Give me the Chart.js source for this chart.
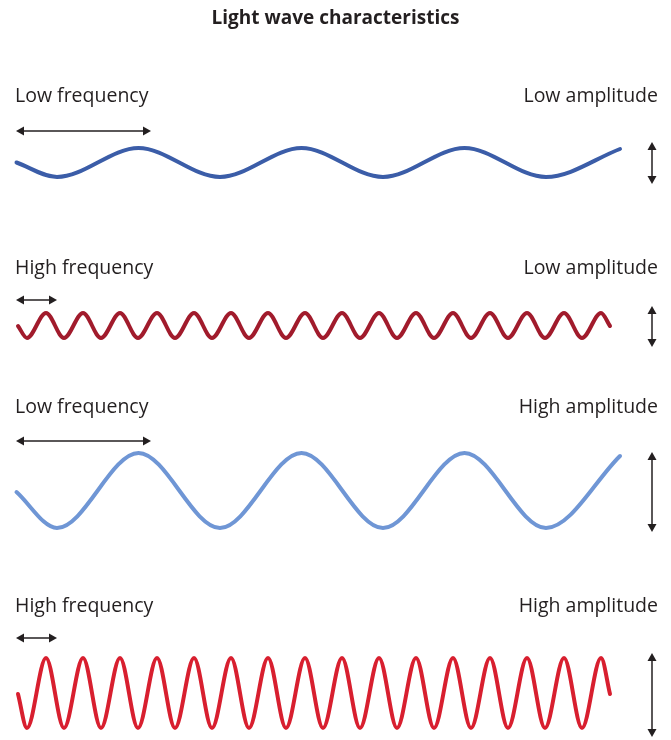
<!DOCTYPE html>
<html>
<head>
<meta charset="utf-8">
<script src="https://cdn.jsdelivr.net/npm/chart.js@4/dist/chart.umd.min.js"></script>
<style>
  html, body { margin: 0; background: #fff; }
  .wrap { width: 671px; height: 740px; position: relative; }
</style>
</head>
<body>
<div class="wrap"><canvas id="waves"></canvas></div>
<script>
// wave extrema (x, y in picture pixels)
const lowFreqX  = [16.5, 57, 138.5, 220, 301.5, 383, 464.5, 546, 620];
const lowAmpLowFreqY  = [162.5, 177, 148, 177, 148, 177, 148, 177, 149];
const highAmpLowFreqY = [492, 528, 453, 528, 453, 528, 453, 528, 456];

const highFreqX = [18, 27, 46, 64, 83, 101, 120, 138, 157, 175, 194, 212, 231, 249, 268, 286, 305,
                   323, 342, 360, 379, 397, 416, 434, 453, 471, 490, 508, 527, 545, 564, 582, 601, 610];
const lowAmpHighFreqY  = [326, 338, 313, 338, 313, 338, 313, 338, 313, 338, 313, 338, 313, 338, 313, 338, 313,
                          338, 313, 338, 313, 338, 313, 338, 313, 338, 313, 338, 313, 338, 313, 338, 313, 326];
const highAmpHighFreqY = [694, 728, 658, 728, 658, 728, 658, 728, 658, 728, 658, 728, 658, 728, 658, 728, 658,
                          728, 658, 728, 658, 728, 658, 728, 658, 728, 658, 728, 658, 728, 658, 728, 658, 694];

// labels
const leftLabels  = ['Low frequency', 'High frequency', 'Low frequency', 'High frequency'];
const rightLabels = ['Low amplitude', 'Low amplitude', 'High amplitude', 'High amplitude'];
const labelY      = [96, 268, 407, 606];

// wavelength arrows (horizontal) and amplitude arrows (vertical)
const waveArrowStart = [16, 16, 16, 16];
const waveArrowEnd   = [151, 57, 151, 57];
const waveArrowY     = [131, 300, 441, 638];
const ampArrowX      = [652, 652, 652, 652];
const ampArrowTop    = [142, 306, 452, 653];
const ampArrowBottom = [184, 347, 532, 737];

const toPoints = (xs, ys) => xs.map((x, i) => ({ x, y: ys[i] }));

const TEXT = '#231f20';

function arrowHead(ctx, x, y, dx, dy) {
  const len = 8, half = 4.5;
  const px = -dy, py = dx;
  ctx.beginPath();
  ctx.moveTo(x, y);
  ctx.lineTo(x - dx * len + px * half, y - dy * len + py * half);
  ctx.lineTo(x - dx * len - px * half, y - dy * len - py * half);
  ctx.closePath();
  ctx.fill();
}

const decorations = {
  id: 'decorations',
  afterDatasetsDraw(chart) {
    const { ctx, scales: { x, y } } = chart;
    ctx.save();
    ctx.fillStyle = TEXT;
    ctx.strokeStyle = TEXT;
    ctx.lineWidth = 1.5;

    // labels
    ctx.font = '19.5px "Open Sans"';
    ctx.textBaseline = 'middle';
    leftLabels.forEach((t, i) => {
      ctx.textAlign = 'left';
      ctx.fillText(t, x.getPixelForValue(15), y.getPixelForValue(labelY[i]));
      ctx.textAlign = 'right';
      ctx.fillText(rightLabels[i], x.getPixelForValue(658), y.getPixelForValue(labelY[i]));
    });

    // horizontal arrows
    waveArrowY.forEach((v, i) => {
      const x0 = x.getPixelForValue(waveArrowStart[i]);
      const x1 = x.getPixelForValue(waveArrowEnd[i]);
      const yy = y.getPixelForValue(v);
      ctx.beginPath();
      ctx.moveTo(x0 + 5, yy);
      ctx.lineTo(x1 - 5, yy);
      ctx.stroke();
      arrowHead(ctx, x0, yy, -1, 0);
      arrowHead(ctx, x1, yy, 1, 0);
    });

    // vertical arrows
    ampArrowX.forEach((v, i) => {
      const xx = x.getPixelForValue(v);
      const y0 = y.getPixelForValue(ampArrowTop[i]);
      const y1 = y.getPixelForValue(ampArrowBottom[i]);
      ctx.beginPath();
      ctx.moveTo(xx, y0 + 5);
      ctx.lineTo(xx, y1 - 5);
      ctx.stroke();
      arrowHead(ctx, xx, y0, 0, -1);
      arrowHead(ctx, xx, y1, 0, 1);
    });
    ctx.restore();
  }
};

const wave = (data, color) => ({
  data,
  borderColor: color,
  borderWidth: 4,
  borderCapStyle: 'round',
  pointRadius: 0,
  cubicInterpolationMode: 'monotone',
  fill: false
});

new Chart(document.getElementById('waves'), {
  type: 'line',
  data: {
    datasets: [
      wave(toPoints(lowFreqX, lowAmpLowFreqY), '#3b5da8'),
      wave(toPoints(highFreqX, lowAmpHighFreqY), '#a11b2c'),
      wave(toPoints(lowFreqX, highAmpLowFreqY), '#6f96d5'),
      wave(toPoints(highFreqX, highAmpHighFreqY), '#d81f2f')
    ]
  },
  options: {
    responsive: true,
    maintainAspectRatio: false,
    animation: false,
    layout: { padding: 0 },
    scales: {
      x: { type: 'linear', display: false, min: 0, max: 671 },
      y: { type: 'linear', display: false, min: 40, max: 740, reverse: true }
    },
    plugins: {
      legend: { display: false },
      tooltip: { enabled: false },
      title: {
        display: true,
        text: 'Light wave characteristics',
        color: TEXT,
        font: { family: '"Open Sans"', size: 19, weight: 'bold' },
        padding: { top: 7, bottom: 10.2 }
      }
    }
  },
  plugins: [decorations]
});
</script>
</body>
</html>
